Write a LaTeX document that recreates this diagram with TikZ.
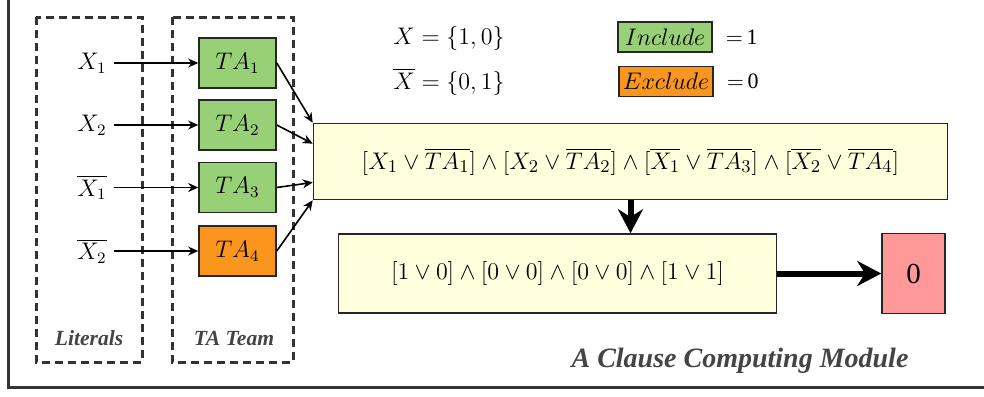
\documentclass[tikz,border=0pt]{standalone}
\usepackage{amsmath}
\usepackage{amssymb}
\usepackage{fontspec}
\setmainfont{Liberation Serif}
\usepackage{xcolor}
\usepackage{tikz}
\usetikzlibrary{arrows.meta,positioning,calc}
\definecolor{includegreen}{RGB}{151, 208, 119}
\definecolor{excludeorange}{RGB}{250, 150, 30}
\definecolor{clauseyellow}{RGB}{255, 255, 221}
\definecolor{outputred}{RGB}{255, 153, 153}
\definecolor{framegray}{RGB}{51, 51, 51}
\definecolor{captiongray}{RGB}{68, 68, 68}

\begin{document}
\begin{tikzpicture}[x=0.5pt, y=-0.5pt, >={Stealth[length=5pt, width=4.5pt]},
    tabox/.style={draw=black!85, line width=0.8pt, minimum width=38.5pt, minimum height=25pt, inner sep=0pt, font=\fontsize{12}{14}\selectfont},
    groupbox/.style={draw=framegray, line width=1.5pt, dash pattern=on 4pt off 2.5pt},
    grouplabel/.style={font=\fontsize{10.8}{12}\selectfont\bfseries\itshape, text=captiongray},
    clausebox/.style={draw=black!85, line width=0.8pt, fill=clauseyellow, inner sep=0pt},
    thinarrow/.style={->, line width=0.8pt},
    thickarrow/.style={-{Stealth[length=12pt, width=12.5pt]}, line width=3pt}]
        \useasboundingbox (0, 0) rectangle (984, 396);
        \clip (0, 0) rectangle (984, 396);

        % Outer frame
        \draw[draw=framegray, line width=1.5pt] (8, -20) rectangle (1010, 387);

        % Dashed groups
        \draw[groupbox] (36, 17) rectangle (142, 362);
        \draw[groupbox] (172, 17) rectangle (293, 362);
        \node[grouplabel] (litlabel) at (89, 338) {Literals};
        \node[grouplabel] (talabel) at (234, 338) {TA Team};

        % Literals
        \node[font=\fontsize{12}{14}\selectfont] (lit1) at (92, 63) {$X_1$};
        \node[font=\fontsize{12}{14}\selectfont] (lit2) at (92, 125) {$X_2$};
        \node[font=\fontsize{12}{14}\selectfont] (lit3) at (92, 187.5) {$\overline{X_1}$};
        \node[font=\fontsize{12}{14}\selectfont] (lit4) at (92, 251) {$\overline{X_2}$};

        % TA team
        \node[tabox, fill=includegreen] (ta1) at (237.5, 63) {$TA_1$};
        \node[tabox, fill=includegreen] (ta2) at (237.5, 125) {$TA_2$};
        \node[tabox, fill=includegreen] (ta3) at (237.5, 187.5) {$TA_3$};
        \node[tabox, fill=excludeorange] (ta4) at (237.5, 251) {$TA_4$};

        \draw[thinarrow] (lit1) -- (ta1);
        \draw[thinarrow] (lit2) -- (ta2);
        \draw[thinarrow] (lit3) -- (ta3);
        \draw[thinarrow] (lit4) -- (ta4);

        % Clause and its evaluation
        \node[clausebox, minimum width=317pt, minimum height=38pt, font=\fontsize{12.5}{14}\selectfont] (clause) at (630.5, 161.5)
            {$[X_1 \vee \overline{TA_1}] \wedge [X_2 \vee \overline{TA_2}] \wedge [\overline{X_1} \vee \overline{TA_3}] \wedge [\overline{X_2} \vee \overline{TA_4}]$};
        \node[clausebox, minimum width=219pt, minimum height=39.5pt, font=\fontsize{11.6}{13}\selectfont] (eval) at (557.5, 273.5)
            {$[1 \vee 0] \wedge [0 \vee 0] \wedge [0 \vee 0] \wedge [1 \vee 1]$};
        \node[draw=black!85, line width=0.8pt, fill=outputred, minimum width=31.5pt, minimum height=40pt, font=\fontsize{14.5}{16}\selectfont] (out) at (913.5, 273.5) {0};

        \draw[thinarrow] (ta1.east) -- (clause.north west);
        \draw[thinarrow] (ta2.east) -- ($(clause.north west)!0.27!(clause.south west)$);
        \draw[thinarrow] (ta3.east) -- ($(clause.north west)!0.77!(clause.south west)$);
        \draw[thinarrow] (ta4.east) -- (clause.south west);

        \draw[thickarrow] (clause.south) -- (clause.south |- eval.north);
        \draw[thickarrow] (eval.east) -- (out.west);

        % Legend
        \node[font=\fontsize{12}{14}\selectfont] (xset) at (449, 38) {$X = \{1, 0\}$};
        \node[font=\fontsize{12}{14}\selectfont] (xbarset) at (449, 82) {$\overline{X} = \{0, 1\}$};
        \node[draw=black!85, line width=0.8pt, fill=includegreen, minimum width=47pt, minimum height=15pt, inner sep=1pt, font=\fontsize{12}{14}\selectfont] (inc) at (665, 37) {$Include$};
        \node[draw=black!85, line width=0.8pt, fill=excludeorange, minimum width=47pt, minimum height=15pt, inner sep=1pt, font=\fontsize{12}{14}\selectfont] (exc) at (666, 81.5) {$Exclude$};
        \node[right=3pt of inc, font=\fontsize{11}{13}\selectfont] (incval) {$=$\,1};
        \node[right=3pt of exc, font=\fontsize{11}{13}\selectfont] (excval) {$=$\,0};

        % Caption
        \node[font=\fontsize{14}{16}\selectfont\bfseries\itshape, text=captiongray] (caption) at (740, 361) {A Clause Computing Module};
    \end{tikzpicture}
\end{document}
